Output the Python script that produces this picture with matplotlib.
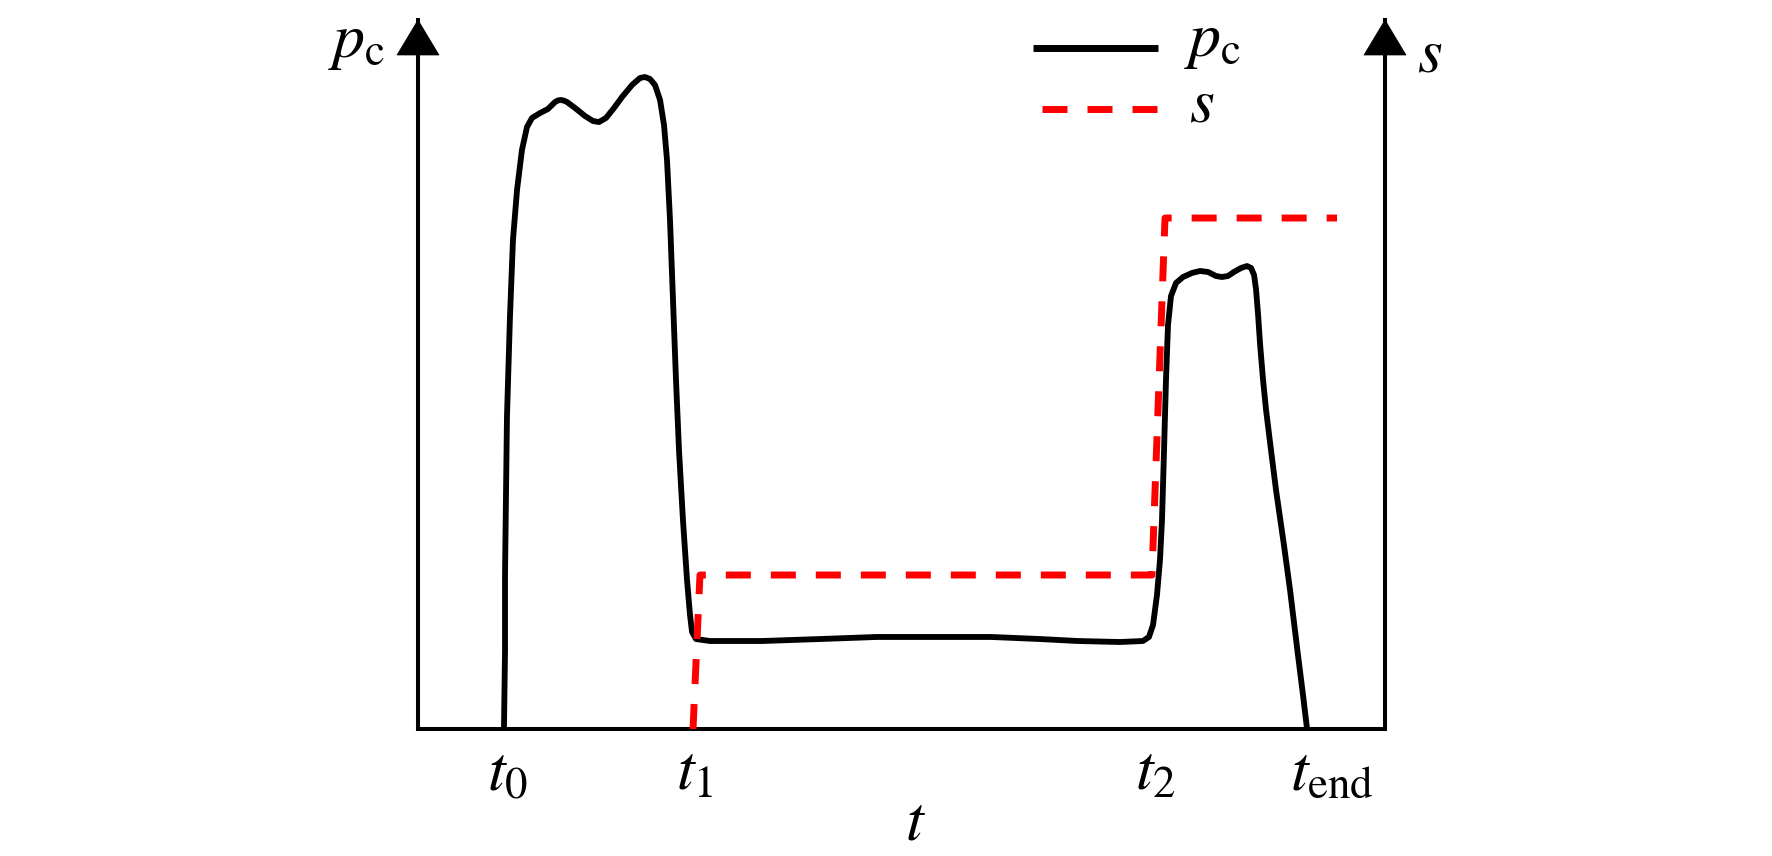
import matplotlib
matplotlib.use("Agg")
import matplotlib.pyplot as plt
from matplotlib.lines import Line2D
from matplotlib.patches import Polygon

plt.rcParams['font.family'] = ['STIXGeneral', 'Liberation Serif', 'DejaVu Serif']
plt.rcParams['mathtext.fontset'] = 'stix'
plt.rcParams['lines.scale_dashes'] = False

# ---------------- data (arbitrary units) ----------------
pc_t = [0.889, 0.900, 0.900, 0.920, 0.951, 0.982, 1.024, 1.075, 1.127, 1.179,
        1.262, 1.344, 1.385, 1.417, 1.448, 1.479, 1.510, 1.541, 1.624, 1.727,
        1.810, 1.872, 1.944, 2.027, 2.110, 2.213, 2.296, 2.347, 2.399, 2.451,
        2.503, 2.544, 2.575, 2.606, 2.637, 2.668, 2.699, 2.740, 2.782, 2.813,
        2.834, 2.875, 3.020, 3.557, 4.157, 4.747, 5.398, 5.926, 6.432, 6.825,
        7.260, 7.497, 7.559, 7.601, 7.642, 7.673, 7.694, 7.715, 7.735, 7.756,
        7.787, 7.839, 7.911, 8.004, 8.087, 8.170, 8.252, 8.314, 8.376, 8.438,
        8.511, 8.573, 8.615, 8.646, 8.666, 8.687, 8.708, 8.739, 8.770, 8.821,
        8.873, 8.955, 9.018, 9.100, 9.152, 9.194]
pc_val = [0.000, 1.114, 2.200, 4.401, 5.811, 6.897, 7.602, 8.166, 8.491, 8.618,
          8.688, 8.745, 8.800, 8.843, 8.866, 8.872, 8.862, 8.843, 8.759, 8.646,
          8.575, 8.561, 8.618, 8.759, 8.914, 9.083, 9.182, 9.196, 9.168, 9.083,
          8.872, 8.519, 8.025, 7.179, 6.051, 4.922, 3.935, 2.948, 2.102, 1.608,
          1.368, 1.269, 1.241, 1.241, 1.269, 1.298, 1.298, 1.298, 1.269, 1.241,
          1.227, 1.241, 1.298, 1.467, 1.890, 2.384, 2.948, 3.935, 4.922, 5.698,
          6.107, 6.291, 6.375, 6.432, 6.460, 6.446, 6.389, 6.375, 6.389, 6.446,
          6.502, 6.530, 6.502, 6.403, 6.206, 5.853, 5.430, 4.922, 4.500, 3.935,
          3.371, 2.595, 1.961, 1.044, 0.480, 0.000]

s_t = [2.844, 2.916, 7.590, 7.725, 9.504]
s_val = [0.000, 2.172, 2.172, 7.207, 7.207]

tick_pos = [0.889, 2.844, 7.590, 9.194]
tick_labels = [r'$t_0$', r'$t_1$', r'$t_2$', r'$t_{\mathrm{end}}$']

legend_labels = [r'$p_{\mathrm{c}}$', r'$s$']
# -----------------------------------------------------------------------------

W, H = 1772, 856
fig = plt.figure(figsize=(W / 100, H / 100), dpi=100)
ax = fig.add_axes([418 / W, (H - 729) / H, (1385 - 418) / W, (729 - 20) / H])
ax.set_xlim(0, 10)
ax.set_ylim(0, 10)

axis_lw = 2.9
for side in ['left', 'right', 'bottom']:
    ax.spines[side].set_linewidth(axis_lw)
    ax.spines[side].set_capstyle('projecting')
ax.spines['top'].set_visible(False)
ax.set_xticks([])
ax.set_yticks([])

# arrow heads on both vertical axes
hw = 21 / (1385 - 418)
hh = 35 / (729 - 20)
for xa in (0.0, 1.0):
    ax.add_patch(Polygon([[xa, 1.0], [xa - hw, 1.0 - hh], [xa + hw, 1.0 - hh]],
                         closed=True, transform=ax.transAxes, facecolor='black',
                         edgecolor='black', lw=0.5, clip_on=False, zorder=5))

pc_style = dict(color='black', lw=4.2, solid_joinstyle='round', solid_capstyle='butt')
s_style = dict(color='#ff0000', lw=5.0, linestyle=(0, (18, 14.4)), dash_capstyle='butt')

ax.plot(pc_t, pc_val, zorder=3, **pc_style)
ax.plot(s_t, s_val, zorder=4, **s_style)

fs = 46
for tp, tl in zip(tick_pos, tick_labels):
    ax.annotate(tl, xy=(tp, 0), xycoords='data', xytext=(-17, -61),
                textcoords='offset pixels', ha='left', va='baseline',
                fontsize=fs, annotation_clip=False)

ax.annotate(r'$t$', xy=(5.14, 0), xycoords='data', xytext=(0, -110),
            textcoords='offset pixels', ha='center', va='baseline',
            fontsize=fs, annotation_clip=False)
ax.annotate(r'$p_{\mathrm{c}}$', xy=(0, 1), xycoords='axes fraction',
            xytext=(-33, -37), textcoords='offset pixels', ha='right',
            va='baseline', fontsize=fs, annotation_clip=False)
ax.annotate(r'$s$', xy=(1, 1), xycoords='axes fraction',
            xytext=(32, -52), textcoords='offset pixels', ha='left',
            va='baseline', fontsize=fs, annotation_clip=False)

# legend (drawn as key lines + labels in figure coordinates)
leg_rows = [(pc_style, 1033, 1158, 48, 1184, 56),
            (s_style, 1042, 1160, 109, 1189, 122)]
for (style, x0, x1, yl, xt, yb), lab in zip(leg_rows, legend_labels):
    st = dict(style)
    st['lw'] = 5.0
    fig.add_artist(Line2D([x0 / W, x1 / W], [1 - yl / H, 1 - yl / H],
                          transform=fig.transFigure, **st))
    fig.text(xt / W, 1 - yb / H, lab, fontsize=fs, ha='left', va='baseline')

fig.savefig('out.png', dpi=100, facecolor='white')
